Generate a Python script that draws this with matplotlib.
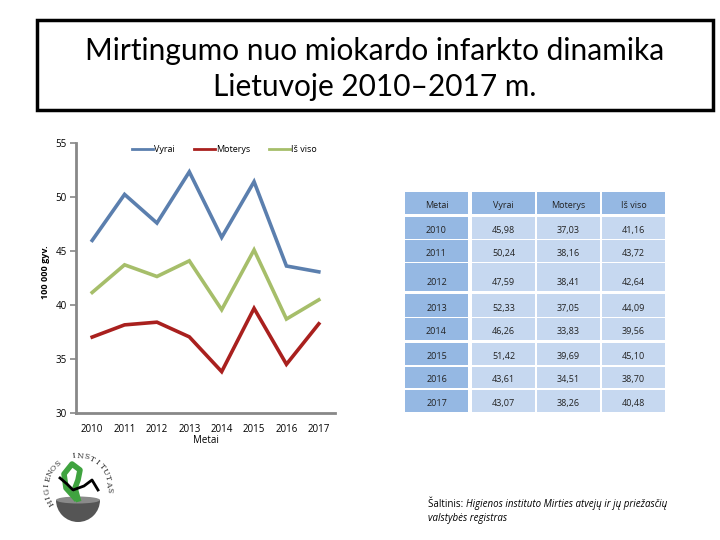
import numpy as np
import matplotlib.pyplot as plt
from matplotlib.patches import Rectangle, Wedge, Ellipse

metai = ['2010', '2011', '2012', '2013', '2014', '2015', '2016', '2017']
vyrai = [45.98, 50.24, 47.59, 52.33, 46.26, 51.42, 43.61, 43.07]
moterys = [37.03, 38.16, 38.41, 37.05, 33.83, 39.69, 34.51, 38.26]
is_viso = [41.16, 43.72, 42.64, 44.09, 39.56, 45.10, 38.70, 40.48]

antraste = 'Mirtingumo nuo miokardo infarkto dinamika\nLietuvoje 2010\u20132017 m.'
stulpeliai = ['Metai', 'Vyrai', 'Moterys', 'Iš viso']
logo_tekstas = 'HIGIENOS  INSTITUTAS'

plt.rcParams['font.family'] = ['Open Sans', 'DejaVu Sans']

fig = plt.figure(figsize=(7.2, 5.4), dpi=100)

# overlay in pixel coordinates for box, table, source
ov = fig.add_axes([0, 0, 1, 1])
ov.set_xlim(0, 720)
ov.set_ylim(540, 0)
ov.axis('off')

# title box
ov.add_patch(Rectangle((39, 22), 676, 90, facecolor='#333333', edgecolor='none'))
ov.add_patch(Rectangle((37, 20), 676, 90, facecolor='white', edgecolor='black', linewidth=2.5))
ov.text(375, 69, antraste, ha='center', va='center', fontsize=21.5, family=['Lato', 'DejaVu Sans'],
        linespacing=1.35)

# chart
ax = fig.add_axes([76 / 720, 1 - 413 / 540, 259 / 720, 270 / 540])
x = np.arange(len(metai))
ax.plot(x, vyrai, color='#5B7FAE', lw=2.6, label='Vyrai', solid_joinstyle='miter')
ax.plot(x, moterys, color='#A9201E', lw=2.6, label='Moterys', solid_joinstyle='miter')
ax.plot(x, is_viso, color='#A6BE6A', lw=2.6, label='Iš viso', solid_joinstyle='miter')
ax.set_xlim(-0.5, len(metai) - 0.5)
ax.set_ylim(30, 55)
ax.set_yticks([30, 35, 40, 45, 50, 55])
ax.set_xticks(x)
ax.set_xticklabels(metai)
ax.tick_params(axis='y', labelsize=7, length=4.5, width=1.2, color='#888888', pad=2)
ax.tick_params(axis='x', labelsize=7, length=0, pad=8)
for s in ['top', 'right']:
    ax.spines[s].set_visible(False)
for s in ['left', 'bottom']:
    ax.spines[s].set_color('#888888')
    ax.spines[s].set_linewidth(2)
ax.set_xlabel('Metai', fontsize=7, labelpad=0)
ax.set_ylabel('100 000 gyv.', fontsize=6.5, fontweight='bold', labelpad=5)
ax.yaxis.set_label_coords(-26 / 259, 0.52)
leg = ax.legend(loc='upper left', bbox_to_anchor=(56 / 259, 0.992), ncol=3, frameon=False, fontsize=6.5,
                handlelength=2.3, handletextpad=0.15, columnspacing=2.1, borderpad=0, borderaxespad=0)
for h in leg.get_lines():
    h.set_linewidth(2)
ax.patch.set_alpha(0)

# table
col_x = [405, 472, 537, 602]
col_w = 63
row_y = [192, 217, 240, 263, 294, 318, 343, 367, 390]
row_h = [22, 22, 22, 28, 23, 22, 22, 21, 22]
eilutes = [stulpeliai] + [[metai[i], f'{vyrai[i]:.2f}'.replace('.', ','),
                           f'{moterys[i]:.2f}'.replace('.', ','),
                           f'{is_viso[i]:.2f}'.replace('.', ',')] for i in range(len(metai))]
for r, eil in enumerate(eilutes):
    for c, txt in enumerate(eil):
        dark = r == 0 or c == 0
        ov.add_patch(Rectangle((col_x[c], row_y[r]), col_w, row_h[r],
                               facecolor='#95B8E3' if dark else '#C6D8F0', edgecolor='none'))
        ov.text(col_x[c] + col_w / 2, row_y[r] + row_h[r] - 6, txt, ha='center', va='baseline',
                fontsize=6.5, color='#222222')

# source
ov.text(428, 507, 'Šaltinis: ', fontsize=7, va='baseline', ha='left')
ov.text(466, 507, 'Higienos instituto Mirties atvejų ir jų priežasčių', fontsize=7, style='italic',
        va='baseline', ha='left')
ov.text(428, 521, 'valstybės registras', fontsize=7, style='italic', va='baseline', ha='left')

# simple logo
cx, cy, rad = 78, 487, 31
ang = np.linspace(150, 365, len(logo_tekstas))
for ch, a in zip(logo_tekstas, ang):
    t = np.deg2rad(a)
    ov.text(cx + rad * np.cos(t), cy + rad * np.sin(t), ch, fontsize=5.5, family='DejaVu Serif',
            ha='center', va='center', rotation=(270 - a) % 360, color='#333333')
ov.add_patch(Wedge((cx, 500), 22, 0, 180, facecolor='#555555', edgecolor='none'))
ov.add_patch(Ellipse((cx, 500), 44, 7, facecolor='#8A8A8A', edgecolor='none'))
ov.plot([75, 66, 64, 72, 80, 78, 75, 78], [498, 488, 474, 464, 470, 480, 488, 499], color='#3FA33F', lw=4)
ov.plot([60, 67, 73, 84, 92, 98], [478, 484, 490, 486, 480, 490], color='black', lw=2)

fig.savefig('out.png', dpi=100)
